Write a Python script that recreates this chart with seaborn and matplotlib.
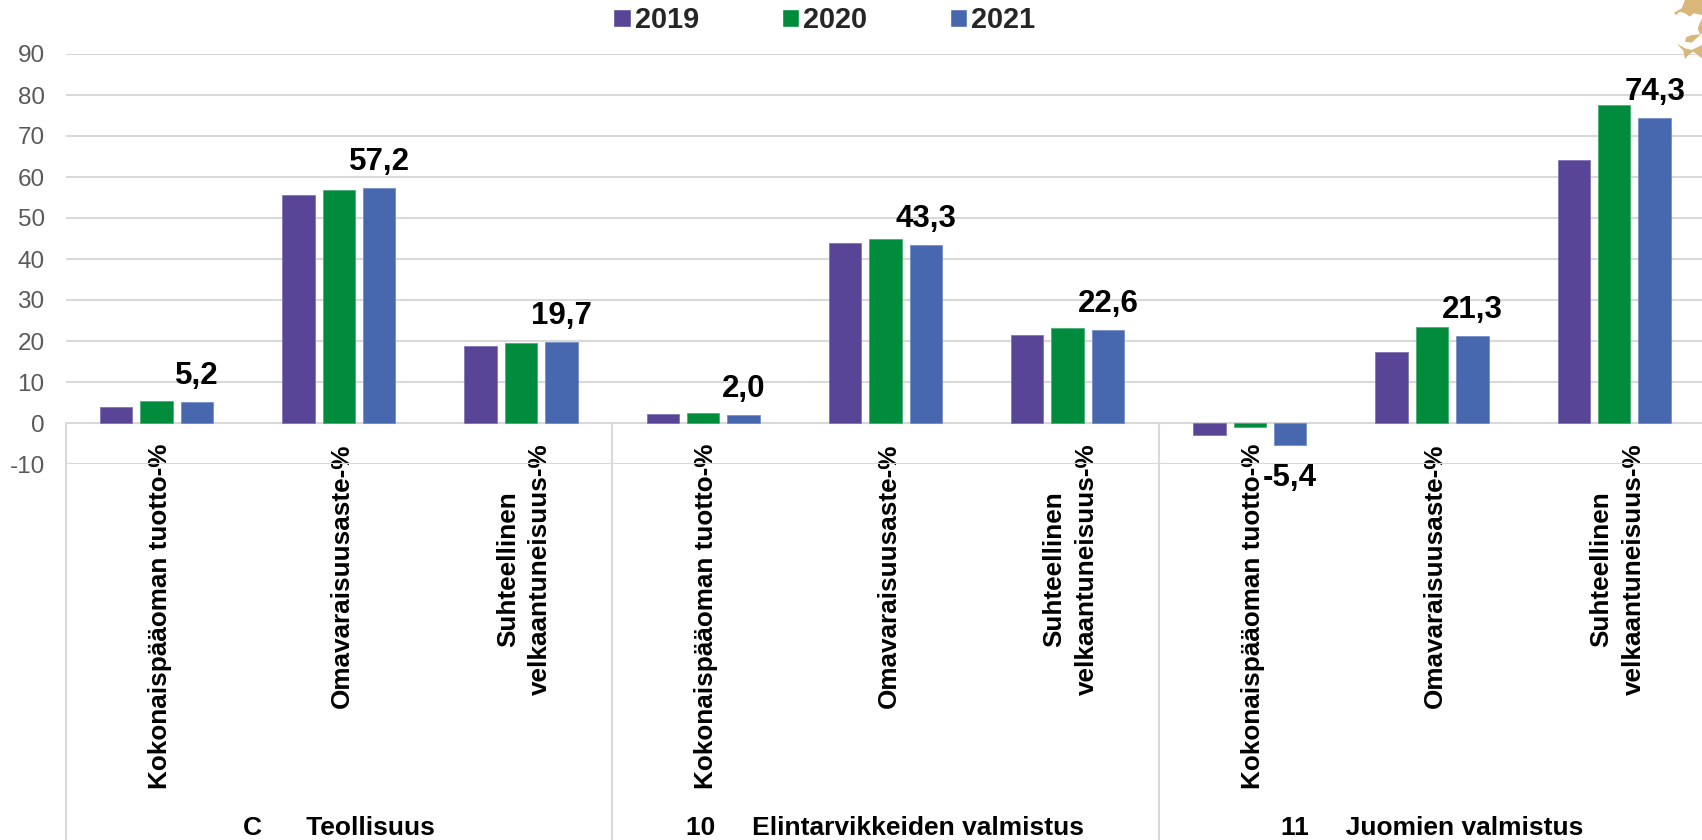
"""Kannattavuus- ja vakavaraisuusluvut toimialoittain 2019-2021."""

import matplotlib.pyplot as plt
import numpy as np
import pandas as pd
import seaborn as sns
from matplotlib.patches import Polygon
from matplotlib.transforms import Affine2D, blended_transform_factory

years = ['2019', '2020', '2021']
groups = ['C      Teollisuus', '10     Elintarvikkeiden valmistus', '11     Juomien valmistus']
metrics = ['Kokonaispääoman tuotto-%', 'Omavaraisuusaste-%', 'Suhteellinen\nvelkaantuneisuus-%']

values_2019 = [4.0, 55.7, 18.7, 2.3, 44.0, 21.4, -3.0, 17.3, 64.2]
values_2020 = [5.4, 56.9, 19.6, 2.4, 45.0, 23.2, -0.9, 23.4, 77.6]
values_2021 = [5.2, 57.2, 19.7, 2.0, 43.3, 22.6, -5.4, 21.3, 74.3]

colors = ['#584595', '#008C3C', '#4768AE']
edge_colors = ['#7A6DB5', '#3FA96B', '#6C89C4']
yticks = list(range(-10, 100, 10))

GRID = '#D9D9D9'
W, H = 1702, 840

sns.set_theme(style='white')
plt.rcParams['font.family'] = ['Liberation Sans', 'DejaVu Sans']
plt.rcParams['axes.unicode_minus'] = False

# one row per bar, positions 0-8 because metric names repeat in each group
df = pd.DataFrame({
    'pos': np.tile(np.arange(9), 3),
    'year': np.repeat(years, 9),
    'value': values_2019 + values_2020 + values_2021,
})

fig = plt.figure(figsize=(W / 100, H / 100), dpi=100)
ax = fig.add_axes([65.5 / W, 1 - 464 / H, 1 - 65.5 / W, (464 - 54) / H])

sns.barplot(data=df, x='pos', y='value', hue='year', palette=colors, width=0.665,
            gap=0.2, saturation=1, ax=ax, zorder=3)

for container, edge in zip(ax.containers, edge_colors):
    for bar in container:
        bar.set_edgecolor(edge)
        bar.set_linewidth(0.5)

ax.set_xlim(-0.5, -0.5 + (W - 65.5) / 182.2)
ax.set_ylim(-10, 90)
ax.set_yticks(yticks)
ax.yaxis.grid(True, color=GRID, linewidth=1.5, zorder=0)
ax.xaxis.grid(False)
sns.despine(ax=ax, left=True, bottom=True, top=True, right=True)
ax.set_xlabel('')
ax.set_ylabel('')
ax.tick_params(axis='y', length=0, pad=15, labelsize=17.5, labelcolor='#595959')

ax.set_xticks(range(9))
ax.set_xticklabels(metrics * 3, rotation=90, ha='center', va='top', multialignment='center',
                   fontweight='bold', fontsize=18.8, color='black', linespacing=1.45)
ax.tick_params(axis='x', length=0, pad=-15)
# nudge the rotated labels a little to the right
for label in ax.get_xticklabels():
    label.set_transform(label.get_transform() + Affine2D().translate(3, 0))

# value labels only on the last year, the negative one sits further off its bar
up_labels = [f'{v:.1f}'.replace('.', ',') if v >= 0 else '' for v in values_2021]
down_labels = [f'{v:.1f}'.replace('.', ',') if v < 0 else '' for v in values_2021]
ax.bar_label(ax.containers[2], labels=up_labels, padding=8, fontsize=22.5,
             fontweight='bold', color='black', zorder=5)
ax.bar_label(ax.containers[2], labels=down_labels, padding=13, fontsize=22.5,
             fontweight='bold', color='black', zorder=5)

# group separators and group names below the axis
trans = blended_transform_factory(ax.transData, fig.transFigure)
for i, name in enumerate(groups):
    left = i * 3 - 0.5
    ax.plot([left, left], [1 - 423 / H, 0], transform=trans, color=GRID, linewidth=1.5,
            clip_on=False, zorder=2)
    ax.text(left + 1.5, 1 - 828 / H, name, transform=trans, ha='center', va='center',
            fontweight='bold', fontsize=19, color='black')

sns.move_legend(ax, 'center', bbox_to_anchor=(0.4844, 1 - 20 / H), bbox_transform=fig.transFigure,
                ncol=3, frameon=False, title=None, prop={'weight': 'bold', 'size': 20.8},
                handlelength=0.6, handleheight=0.6, handletextpad=0.15, columnspacing=2.85,
                borderpad=0)

# corner fragment of the crest, traced in pixels of the 3x crop starting at x=1650
crest = '#D9B679'
shapes = [
    [(72, 38), (95, 25), (105, 0), (156, 0), (156, 45), (130, 40), (120, 50), (105, 40),
     (90, 35), (78, 45)],
    [(156, 55), (143, 85), (150, 103), (125, 105), (108, 112), (105, 125), (125, 128),
     (156, 100), (156, 135), (125, 150), (105, 145), (80, 130), (100, 152), (105, 178),
     (115, 165), (130, 155), (156, 175)],
]
for pts in shapes:
    fig.add_artist(Polygon([((1650 + x / 3) / W, 1 - (y / 3) / H) for x, y in pts], closed=True,
                           facecolor=crest, edgecolor='none', transform=fig.transFigure))

fig.savefig('out.png', dpi=100)
